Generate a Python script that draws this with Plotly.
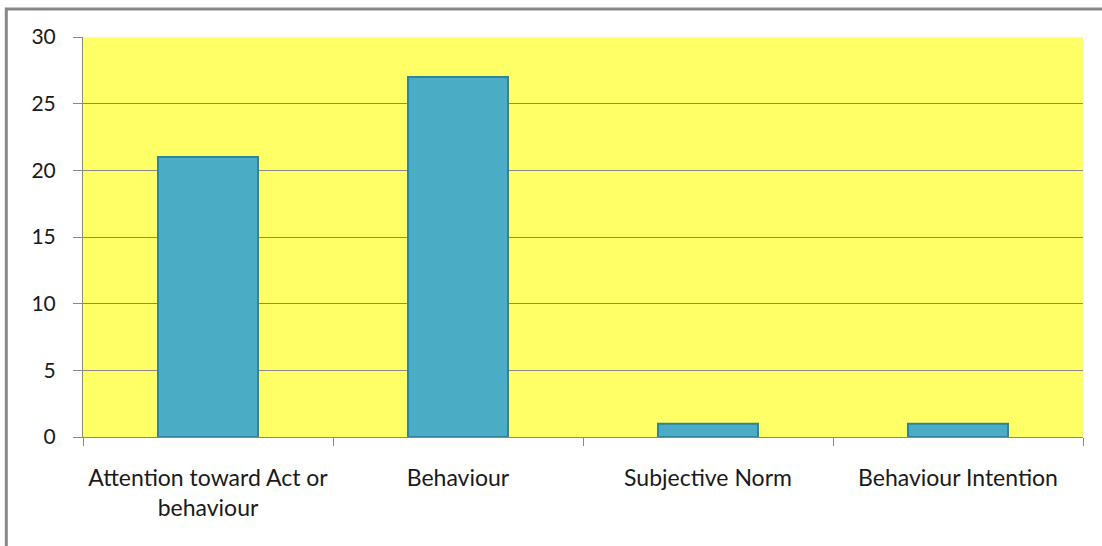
import plotly.graph_objects as go

# Category labels and counts
categories = ["Attention toward Act or<br>behaviour", "Behaviour", "Subjective Norm", "Behaviour Intention"]
counts = [21, 27, 1, 1]
y_ticks = [0, 5, 10, 15, 20, 25, 30]

fig = go.Figure()
fig.add_trace(go.Bar(
    x=categories,
    y=counts,
    width=0.4,
    marker=dict(color="#4BACC6", line=dict(color="#31849B", width=2)),
))

font_family = "Lato, Liberation Sans, sans-serif"

fig.update_layout(
    width=1102,
    height=546,
    margin=dict(l=83, r=19, t=37, b=109),
    paper_bgcolor="white",
    plot_bgcolor="#FFFF66",
    showlegend=False,
    bargap=0.6,
    font=dict(family=font_family, color="#1a1a1a", size=21),
    xaxis=dict(
        type="category",
        showline=True,
        linecolor="#888888",
        linewidth=1,
        ticks="outside",
        ticklen=8,
        tickcolor="#888888",
        tickson="boundaries",
        showgrid=False,
        tickfont=dict(size=23),
        ticklabelstandoff=20,
    ),
    yaxis=dict(
        range=[0, 30],
        tickvals=y_ticks,
        showline=True,
        linecolor="#888888",
        linewidth=1,
        ticks="outside",
        ticklen=9,
        tickcolor="#888888",
        showgrid=True,
        gridcolor="#888888",
        gridwidth=1,
        zeroline=False,
        tickfont=dict(size=21),
        ticklabelstandoff=13,
    ),
    shapes=[
        # frame around the chart area
        dict(type="rect", xref="paper", yref="paper",
             x0=-0.0767, x1=1.5, y0=-0.5, y1=1.07,
             line=dict(color="#888888", width=3), fillcolor="rgba(0,0,0,0)"),
    ],
)

fig.write_html("out.html")
